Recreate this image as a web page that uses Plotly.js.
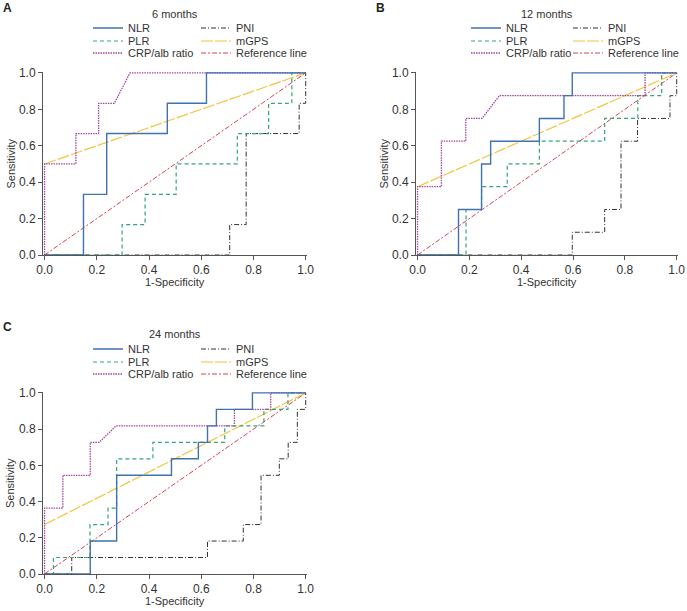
<!DOCTYPE html>
<html>
<head>
<meta charset="utf-8">
<script src="https://cdn.plot.ly/plotly-3.0.1.min.js"></script>
<style>
  html, body { margin: 0; padding: 0; background: #fff; }
  #chart { width: 687px; height: 611px; }
</style>
</head>
<body>
<div id="chart"></div>
<script>
// ROC points: x = 1-specificity, y = sensitivity

// 6 months
const m6NlrX = [0, 0.149, 0.149, 0.238, 0.238, 0.47, 0.47, 0.62, 0.62, 1];
const m6NlrY = [0, 0, 0.333, 0.333, 0.667, 0.667, 0.833, 0.833, 1, 1];
const m6PlrX = [0, 0.297, 0.297, 0.385, 0.385, 0.504, 0.504, 0.738, 0.738, 0.858, 0.858, 0.947, 0.947, 1];
const m6PlrY = [0, 0, 0.167, 0.167, 0.333, 0.333, 0.5, 0.5, 0.667, 0.667, 0.833, 0.833, 1, 1];
const m6CrpX = [0, 0, 0.12, 0.12, 0.207, 0.207, 0.267, 0.327, 1];
const m6CrpY = [0, 0.5, 0.5, 0.667, 0.667, 0.833, 0.833, 1, 1];
const m6PniX = [0, 0.709, 0.709, 0.772, 0.772, 0.975, 0.975, 1, 1];
const m6PniY = [0, 0, 0.167, 0.167, 0.667, 0.667, 0.833, 0.833, 1];
const m6GpsX = [0, 1];
const m6GpsY = [0.5, 1];

// 12 months
const m12NlrX = [0, 0.158, 0.158, 0.247, 0.247, 0.282, 0.282, 0.47, 0.47, 0.565, 0.565, 0.597, 0.597, 1];
const m12NlrY = [0, 0, 0.25, 0.25, 0.5, 0.5, 0.625, 0.625, 0.75, 0.75, 0.875, 0.875, 1, 1];
const m12PlrX = [0, 0.187, 0.187, 0.247, 0.247, 0.346, 0.346, 0.47, 0.47, 0.722, 0.722, 0.85, 0.85, 0.942, 0.942, 1];
const m12PlrY = [0, 0, 0.25, 0.25, 0.375, 0.375, 0.5, 0.5, 0.625, 0.625, 0.75, 0.75, 0.875, 0.875, 1, 1];
const m12CrpX = [0, 0, 0.092, 0.092, 0.186, 0.186, 0.249, 0.316, 0.878, 0.878, 1];
const m12CrpY = [0, 0.375, 0.375, 0.625, 0.625, 0.75, 0.75, 0.875, 0.875, 1, 1];
const m12PniX = [0, 0.597, 0.597, 0.722, 0.722, 0.785, 0.785, 0.849, 0.849, 0.974, 0.974, 1, 1];
const m12PniY = [0, 0, 0.125, 0.125, 0.25, 0.25, 0.625, 0.625, 0.75, 0.75, 0.875, 0.875, 1];
const m12GpsX = [0, 1];
const m12GpsY = [0.375, 1];

// 24 months
const m24NlrX = [0, 0.175, 0.175, 0.276, 0.276, 0.486, 0.486, 0.589, 0.589, 0.624, 0.624, 0.658, 0.658, 0.796, 0.796, 1];
const m24NlrY = [0, 0, 0.182, 0.182, 0.545, 0.545, 0.636, 0.636, 0.727, 0.727, 0.818, 0.818, 0.909, 0.909, 1, 1];
const m24PlrX = [0, 0.034, 0.034, 0.174, 0.174, 0.243, 0.243, 0.276, 0.276, 0.415, 0.415, 0.69, 0.69, 0.84, 0.84, 0.932, 0.932, 1];
const m24PlrY = [0, 0, 0.091, 0.091, 0.273, 0.273, 0.364, 0.364, 0.636, 0.636, 0.727, 0.727, 0.818, 0.818, 0.909, 0.909, 1, 1];
const m24CrpX = [0, 0, 0.07, 0.07, 0.175, 0.175, 0.209, 0.274, 0.727, 0.727, 0.866, 0.866, 1];
const m24CrpY = [0, 0.364, 0.364, 0.545, 0.545, 0.727, 0.727, 0.818, 0.818, 0.909, 0.909, 1, 1];
const m24PniX = [0, 0.104, 0.104, 0.624, 0.624, 0.761, 0.761, 0.829, 0.829, 0.899, 0.899, 0.933, 0.933, 0.968, 0.968, 1, 1];
const m24PniY = [0, 0, 0.091, 0.091, 0.182, 0.182, 0.273, 0.273, 0.545, 0.545, 0.636, 0.636, 0.727, 0.727, 0.909, 0.909, 1];
const m24GpsX = [0, 1];
const m24GpsY = [0.273, 1];

const refX = [0, 1];
const refY = [0, 1];

const seriesNames = ['NLR', 'PLR', 'CRP/alb ratio', 'PNI', 'mGPS', 'Reference line'];
const panelTitles = ['6 months', '12 months', '24 months'];
const panelLetters = ['A', 'B', 'C'];
const axisTicks = [0, 0.2, 0.4, 0.6, 0.8, 1.0];

const W = 687, H = 611;
const FONT = 'Arial, "Liberation Sans", sans-serif';

const styles = {
    'NLR': { color: '#3f73ae', width: 1.4, dash: 'solid' },
    'PLR': { color: '#36a57a', width: 1.2, dash: '4px,3px' },
    'CRP/alb ratio': { color: '#a2469f', width: 1.3, dash: '1.5px,1px' },
    'PNI': { color: '#333333', width: 1, dash: '5px,2px,1px,2px' },
    'mGPS': { color: '#f2c440', width: 1.2, dash: '12px,2px' },
    'Reference line': { color: '#d9404f', width: 1, dash: '5px,2px,2px,2px' }
};

// pixel layout of each panel (plot box, legend text columns, legend rows)
const panels = [
    { xa: 'x', ya: 'y', box: [43, 307, 72, 255], cols: [128, 236], rows: [28, 41, 53], titleY: 14, letter: [7, 8],
      data: [[m6NlrX, m6NlrY], [m6PlrX, m6PlrY], [m6CrpX, m6CrpY], [m6PniX, m6PniY], [m6GpsX, m6GpsY], [refX, refY]] },
    { xa: 'x2', ya: 'y2', box: [416, 678, 72, 255], cols: [506, 608], rows: [28, 41, 53], titleY: 14, letter: [380, 8],
      data: [[m12NlrX, m12NlrY], [m12PlrX, m12PlrY], [m12CrpX, m12CrpY], [m12PniX, m12PniY], [m12GpsX, m12GpsY], [refX, refY]] },
    { xa: 'x3', ya: 'y3', box: [43, 307, 392, 574], cols: [128, 236], rows: [349, 362, 374], titleY: 334, letter: [7, 327],
      data: [[m24NlrX, m24NlrY], [m24PlrX, m24PlrY], [m24CrpX, m24CrpY], [m24PniX, m24PniY], [m24GpsX, m24GpsY], [refX, refY]] }
];

const drawOrder = [5, 4, 3, 1, 2, 0];
const traces = [];
const layout = {
    width: W, height: H,
    margin: { l: 0, r: 0, t: 0, b: 0 },
    paper_bgcolor: '#fff', plot_bgcolor: '#fff',
    font: { family: FONT, size: 11, color: '#333' },
    annotations: [],
    showlegend: true
};

let legendCount = 0;
panels.forEach((p, pi) => {
    const [x0, x1, y0, y1] = p.box;
    const axisCommon = {
        tickvals: axisTicks,
        tickformat: '.1f',
        ticks: 'outside', ticklen: 4, tickwidth: 1, tickcolor: '#555',
        showline: true, linecolor: '#555', linewidth: 1,
        showgrid: false, zeroline: false,
        tickfont: { family: FONT, size: 12, color: '#333' },
        fixedrange: true
    };
    const xKey = p.xa === 'x' ? 'xaxis' : 'xaxis' + p.xa.slice(1);
    const yKey = p.ya === 'y' ? 'yaxis' : 'yaxis' + p.ya.slice(1);
    layout[xKey] = Object.assign({}, axisCommon, { range: [-0.006, 1.005], domain: [x0 / W, x1 / W], anchor: p.ya });
    layout[yKey] = Object.assign({}, axisCommon, { range: [0, 1.005], domain: [1 - y1 / H, 1 - y0 / H], anchor: p.xa });

    drawOrder.forEach(si => {
        const name = seriesNames[si];
        const st = styles[name];
        legendCount += 1;
        const legId = legendCount === 1 ? 'legend' : 'legend' + legendCount;
        traces.push({
            x: p.data[si][0], y: p.data[si][1],
            xaxis: p.xa, yaxis: p.ya,
            type: 'scatter', mode: 'lines', name: name,
            line: { color: st.color, width: st.width, dash: st.dash },
            legend: legId, hoverinfo: 'skip'
        });
        const col = si < 3 ? 0 : 1;
        const row = si % 3;
        layout[legId] = {
            x: (p.cols[col] - 40) / W, xanchor: 'left',
            y: 1 - p.rows[row] / H, yanchor: 'middle',
            bgcolor: 'rgba(0,0,0,0)', borderwidth: 0,
            font: { family: FONT, size: 11, color: '#333' }
        };
    });

    const cx = (x0 + x1) / 2;
    layout.annotations.push(
        { text: panelTitles[pi], xref: 'paper', yref: 'paper', x: cx / W, y: 1 - p.titleY / H,
          xanchor: 'center', yanchor: 'middle', showarrow: false, font: { size: 11, color: '#333' } },
        { text: '<b>' + panelLetters[pi] + '</b>', xref: 'paper', yref: 'paper', x: p.letter[0] / W, y: 1 - p.letter[1] / H,
          xanchor: 'center', yanchor: 'middle', showarrow: false, font: { size: 12, color: '#222' } },
        { text: '1-Specificity', xref: 'paper', yref: 'paper', x: cx / W, y: 1 - (y1 + 27) / H,
          xanchor: 'center', yanchor: 'middle', showarrow: false, font: { size: 11, color: '#333' } },
        { text: 'Sensitivity', xref: 'paper', yref: 'paper', x: (x0 - 33) / W, y: 1 - ((y0 + y1) / 2) / H,
          xanchor: 'center', yanchor: 'middle', textangle: -90, showarrow: false, font: { size: 11, color: '#333' } }
    );
});

Plotly.newPlot('chart', traces, layout, { displayModeBar: false, staticPlot: true });
</script>
</body>
</html>
